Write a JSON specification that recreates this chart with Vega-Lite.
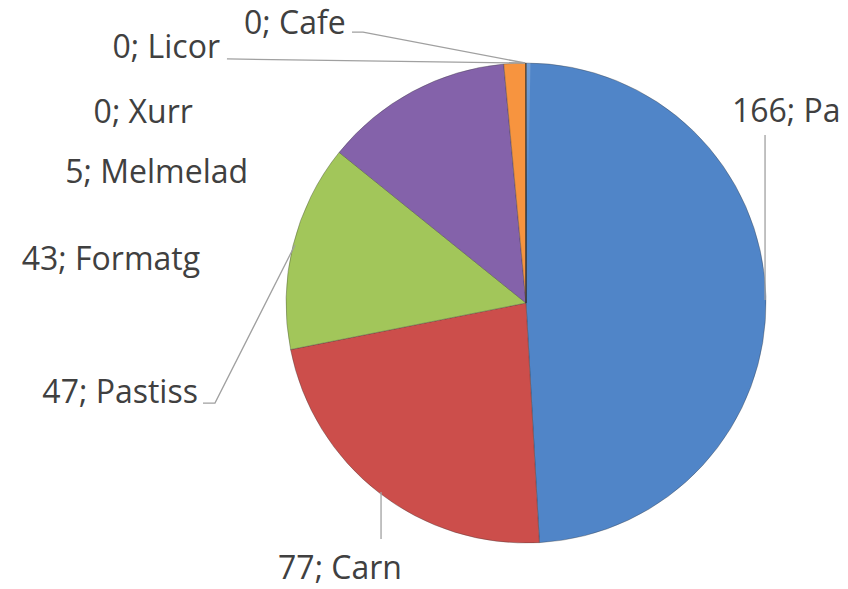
{
  "$schema": "https://vega.github.io/schema/vega-lite/v6.json",
  "width": 848,
  "height": 589,
  "autosize": {"type": "none"},
  "padding": 0,
  "background": "white",
  "config": {"view": {"stroke": null}},
  "datasets": {
    "slices": [
      {"idx": 1, "name": "Pa", "value": 166},
      {"idx": 2, "name": "Carn", "value": 77},
      {"idx": 3, "name": "Pastiss", "value": 47},
      {"idx": 4, "name": "Formatg", "value": 43},
      {"idx": 5, "name": "Melmelad", "value": 5},
      {"idx": 6, "name": "Xurr", "value": 0},
      {"idx": 7, "name": "Licor", "value": 0},
      {"idx": 8, "name": "Cafe", "value": 0}
    ],
    "labels": [
      {"label": "166; Pa", "lx": 0.858, "ly": 0.796},
      {"label": "77; Carn", "lx": -0.775, "ly": -1.108},
      {"label": "47; Pastiss", "lx": -1.367, "ly": -0.375},
      {"label": "43; Formatg", "lx": -1.358, "ly": 0.179},
      {"label": "5; Melmelad", "lx": -1.158, "ly": 0.542},
      {"label": "0; Xurr", "lx": -1.388, "ly": 0.792},
      {"label": "0; Licor", "lx": -1.275, "ly": 1.063},
      {"label": "0; Cafe", "lx": -0.963, "ly": 1.163}
    ],
    "leaders": [
      {"name": "Cafe", "k": 1, "px": -0.725, "py": 1.129},
      {"name": "Cafe", "k": 2, "px": -0.679, "py": 1.129},
      {"name": "Cafe", "k": 3, "px": -0.004, "py": 1.0},
      {"name": "Licor", "k": 1, "px": -1.246, "py": 1.017},
      {"name": "Licor", "k": 2, "px": -0.004, "py": 1.0},
      {"name": "Pastiss", "k": 1, "px": -1.346, "py": -0.417},
      {"name": "Pastiss", "k": 2, "px": -1.296, "py": -0.417},
      {"name": "Pastiss", "k": 3, "px": -0.9625, "py": 0.242},
      {"name": "Pa", "k": 1, "px": 0.996, "py": 0.7},
      {"name": "Pa", "k": 2, "px": 0.996, "py": 0.0125},
      {"name": "Carn", "k": 1, "px": -0.604, "py": -0.983},
      {"name": "Carn", "k": 2, "px": -0.604, "py": -0.7875}
    ]
  },
  "layer": [
    {
      "data": {"name": "slices"},
      "mark": {"type": "arc", "outerRadius": 240, "stroke": "#3a3a3a", "strokeOpacity": 0.35, "strokeWidth": 1},
      "encoding": {
        "x": {"datum": 0, "type": "quantitative", "scale": {"domain": [-2.19167, 1.34167], "nice": false, "zero": false}, "axis": null},
        "y": {"datum": 0, "type": "quantitative", "scale": {"domain": [-1.19167, 1.2625], "nice": false, "zero": false}, "axis": null},
        "theta": {"field": "value", "type": "quantitative", "stack": true},
        "order": {"field": "idx", "type": "quantitative"},
        "color": {
          "field": "name", "type": "nominal", "legend": null,
          "scale": {
            "domain": ["Pa", "Carn", "Pastiss", "Formatg", "Melmelad", "Xurr", "Licor", "Cafe"],
            "range": ["#5085c8", "#cc4e4b", "#a2c65a", "#8462aa", "#f7943f", "#4bacc6", "#2c4d75", "#772c2a"]
          }
        }
      }
    },
    {
      "data": {"values": [{"v": 1}]},
      "mark": {
        "type": "arc", "outerRadius": 240,
        "fill": {"gradient": "linear", "x1": 0, "y1": 0, "x2": 0, "y2": 1,
          "stops": [{"offset": 0, "color": "rgba(255,255,255,0.2)"}, {"offset": 0.6, "color": "rgba(255,255,255,0.0)"}, {"offset": 1, "color": "rgba(0,0,0,0.07)"}]}
      },
      "encoding": {
        "x": {"datum": 0, "type": "quantitative"},
        "y": {"datum": 0, "type": "quantitative"},
        "theta": {"field": "v", "type": "quantitative"}
      }
    },
    {
      "data": {"name": "leaders"},
      "mark": {"type": "line", "color": "#a0a0a0", "strokeWidth": 1.3, "interpolate": "linear"},
      "encoding": {
        "x": {"field": "px", "type": "quantitative"},
        "y": {"field": "py", "type": "quantitative"},
        "detail": {"field": "name"},
        "order": {"field": "k", "type": "quantitative"}
      }
    },
    {
      "data": {"name": "labels"},
      "transform": [{"filter": {"field": "label", "oneOf": ["47; Pastiss", "43; Formatg", "5; Melmelad", "0; Xurr", "0; Licor"]}}],
      "mark": {"type": "text", "align": "right", "baseline": "middle", "font": "Open Sans", "fontSize": 32, "color": "#404040"},
      "encoding": {
        "x": {"field": "lx", "type": "quantitative"},
        "y": {"field": "ly", "type": "quantitative"},
        "text": {"field": "label"}
      }
    },
    {
      "data": {"name": "labels"},
      "transform": [{"filter": {"field": "label", "oneOf": ["77; Carn", "0; Cafe"]}}],
      "mark": {"type": "text", "align": "center", "baseline": "middle", "font": "Open Sans", "fontSize": 32, "color": "#404040"},
      "encoding": {
        "x": {"field": "lx", "type": "quantitative"},
        "y": {"field": "ly", "type": "quantitative"},
        "text": {"field": "label"}
      }
    },
    {
      "data": {"name": "labels"},
      "transform": [{"filter": {"field": "label", "oneOf": ["166; Pa"]}}],
      "mark": {"type": "text", "align": "left", "baseline": "middle", "font": "Open Sans", "fontSize": 32, "color": "#404040"},
      "encoding": {
        "x": {"field": "lx", "type": "quantitative"},
        "y": {"field": "ly", "type": "quantitative"},
        "text": {"field": "label"}
      }
    }
  ]
}
